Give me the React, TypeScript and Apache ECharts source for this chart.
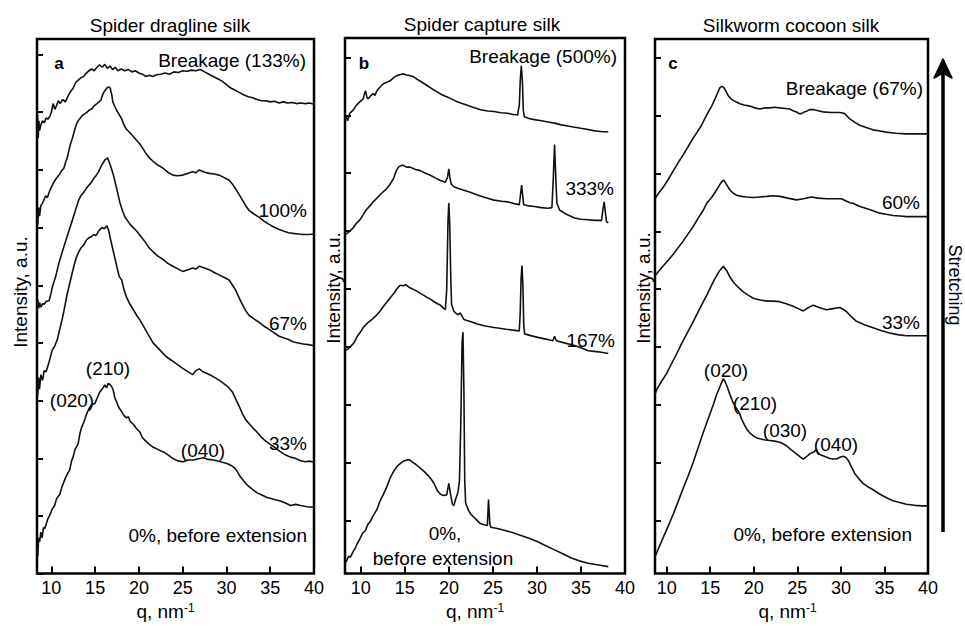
import React, { useEffect, useRef } from "react";
import * as echarts from "echarts";

const FONT = "'Liberation Sans', Arial, Helvetica, sans-serif";

// ---------- axis ticks ----------
const qTicks = [10, 15, 20, 25, 30, 35, 40];
const qMins = [8.36, 8.2, 8.66];
const qMax = 40;
const yMaxs = [9.27, 9.25, 9.24];
const yTicksA = [0, 1, 2, 3, 4, 5, 6, 7, 8, 9];
const yTicksBC = [0.915, 1.915, 2.915, 3.915, 4.915, 5.915, 6.915, 7.915, 8.915];

const panelTitles = ["Spider dragline silk", "Spider capture silk", "Silkworm cocoon silk"];

// ---------- a: spider dragline silk ----------
const dragline0 = [[8.36,0.45],[8.45,0.3],[8.55,0.62],[8.66,0.55],[8.8,0.72],[8.95,0.62],[9.1,0.8],[9.24,0.78],[9.4,0.85],[9.6,0.95],[9.81,1.01],[10.1,1.12],[10.38,1.18],[10.6,1.3],[10.96,1.37],[11.2,1.5],[11.53,1.63],[11.8,1.72],[12.1,1.8],[12.3,1.95],[12.48,2.02],[12.7,2.15],[13.06,2.25],[13.25,2.42],[13.44,2.53],[13.7,2.62],[14.01,2.76],[14.3,2.86],[14.59,2.93],[14.97,2.95],[15.25,3.05],[15.54,3.15],[15.8,3.2],[16.11,3.27],[16.3,3.22],[16.5,3.3],[16.69,3.28],[16.9,3.24],[17.07,3.18],[17.25,3.05],[17.45,2.98],[17.7,2.88],[18.02,2.81],[18.3,2.74],[18.6,2.7],[18.8,2.72],[19.0,2.64],[19.36,2.59],[19.7,2.52],[20.13,2.45],[20.4,2.36],[20.7,2.31],[21.2,2.24],[21.65,2.19],[22.2,2.15],[22.8,2.11],[23.4,2.05],[23.95,1.99],[24.5,1.95],[25.09,1.94],[25.6,1.97],[26.24,1.97],[26.8,1.99],[27.39,2.01],[27.9,1.98],[28.53,1.97],[29.3,1.94],[30.06,1.91],[30.6,1.87],[31.02,1.82],[31.3,1.75],[31.59,1.68],[32.0,1.6],[32.35,1.54],[32.9,1.47],[33.5,1.4],[34.1,1.36],[34.65,1.32],[35.4,1.29],[36.17,1.26],[36.8,1.22],[37.32,1.18],[37.9,1.2],[38.47,1.18],[39.2,1.16],[40,1.15]];
const dragline33 = [[8.36,3.3],[8.45,3.1],[8.55,3.4],[8.65,3.2],[8.8,3.45],[9.0,3.35],[9.17,3.52],[9.4,3.5],[9.74,3.67],[10.11,3.88],[10.4,3.95],[10.68,4.06],[11.06,4.3],[11.25,4.42],[11.43,4.55],[11.81,4.85],[12.19,5.09],[12.57,5.33],[12.85,5.48],[13.13,5.58],[13.4,5.65],[13.7,5.7],[14.0,5.78],[14.26,5.82],[14.55,5.84],[14.83,5.88],[15.1,5.86],[15.4,5.94],[15.77,6.0],[16.05,5.98],[16.34,6.03],[16.55,5.95],[16.72,5.82],[17.09,5.58],[17.47,5.33],[17.75,5.15],[18.04,5.09],[18.3,4.92],[18.6,4.79],[18.98,4.67],[19.35,4.58],[19.74,4.48],[20.1,4.4],[20.49,4.3],[21.0,4.16],[21.62,4.0],[22.0,3.94],[22.38,3.88],[23.13,3.76],[23.7,3.7],[24.26,3.64],[24.8,3.58],[25.4,3.52],[25.8,3.48],[26.15,3.45],[26.5,3.52],[26.9,3.55],[27.3,3.5],[27.66,3.48],[28.2,3.44],[28.79,3.39],[29.4,3.33],[29.92,3.27],[30.3,3.22],[30.68,3.15],[31.05,3.03],[31.43,2.91],[31.8,2.78],[32.19,2.67],[32.7,2.58],[33.32,2.48],[33.9,2.38],[34.45,2.3],[35.0,2.24],[35.58,2.18],[36.1,2.12],[36.72,2.06],[37.3,2.02],[37.85,2.0],[38.4,1.96],[38.98,1.94],[39.5,1.95],[40,1.93]];
const dragline67 = [[8.36,4.55],[8.45,4.75],[8.55,4.6],[8.65,4.7],[8.8,4.62],[9.0,4.68],[9.17,4.67],[9.4,4.72],[9.74,4.73],[9.95,4.85],[10.11,4.97],[10.49,5.15],[10.87,5.39],[11.25,5.58],[11.62,5.76],[12.0,5.94],[12.38,6.12],[12.75,6.3],[13.13,6.48],[13.4,6.56],[13.7,6.61],[14.0,6.68],[14.26,6.73],[14.55,6.78],[14.83,6.85],[15.1,6.9],[15.4,6.97],[15.77,7.09],[16.15,7.18],[16.42,7.21],[16.72,7.09],[17.09,6.91],[17.47,6.67],[17.85,6.42],[18.15,6.28],[18.42,6.18],[18.98,6.06],[19.35,6.0],[19.74,5.94],[20.2,5.85],[20.68,5.76],[21.1,5.66],[21.62,5.58],[22.2,5.5],[22.75,5.45],[23.3,5.38],[23.89,5.33],[24.5,5.28],[25.0,5.24],[25.6,5.27],[26.15,5.3],[26.5,5.28],[26.9,5.33],[27.5,5.3],[28.04,5.27],[28.6,5.22],[29.17,5.18],[29.7,5.14],[30.3,5.09],[30.7,5.0],[31.06,4.91],[31.45,4.78],[31.81,4.67],[32.2,4.56],[32.57,4.48],[33.1,4.42],[33.7,4.36],[34.3,4.29],[34.83,4.24],[35.4,4.18],[35.96,4.12],[36.5,4.09],[37.1,4.06],[37.6,4.02],[38.2,4.0],[38.8,3.98],[39.36,3.97],[40,3.95]];
const dragline100 = [[8.36,6.25],[8.45,6.05],[8.55,6.35],[8.65,6.2],[8.8,6.38],[8.98,6.42],[9.2,6.5],[9.36,6.55],[9.55,6.52],[9.74,6.61],[10.0,6.7],[10.3,6.79],[10.6,6.86],[10.87,6.91],[11.15,6.98],[11.43,7.03],[11.6,7.12],[11.81,7.21],[12.0,7.34],[12.19,7.45],[12.4,7.55],[12.57,7.64],[12.75,7.74],[12.94,7.82],[13.2,7.88],[13.51,7.94],[13.8,7.97],[14.08,8.0],[14.35,8.04],[14.64,8.06],[14.95,8.12],[15.21,8.15],[15.45,8.18],[15.66,8.21],[15.85,8.3],[16.04,8.36],[16.34,8.42],[16.55,8.44],[16.72,8.42],[16.9,8.3],[17.02,8.18],[17.25,8.1],[17.47,8.03],[17.75,7.96],[18.04,7.88],[18.3,7.78],[18.6,7.7],[19.0,7.64],[19.36,7.58],[19.7,7.52],[20.11,7.45],[20.5,7.36],[20.87,7.27],[21.25,7.2],[21.62,7.15],[22.2,7.08],[22.75,7.03],[23.3,6.96],[23.89,6.91],[24.4,6.9],[25.0,6.91],[25.6,6.94],[26.15,6.97],[26.5,6.95],[26.9,7.0],[27.5,6.96],[28.04,6.94],[28.6,6.93],[29.17,6.91],[29.7,6.87],[30.3,6.82],[30.7,6.75],[31.06,6.67],[31.45,6.57],[31.81,6.48],[32.2,6.38],[32.57,6.3],[33.1,6.24],[33.7,6.18],[34.3,6.11],[34.83,6.06],[35.4,6.01],[35.96,5.97],[36.5,5.94],[37.1,5.91],[37.6,5.9],[38.2,5.89],[38.8,5.88],[39.36,5.88],[40,5.89]];
const draglineBreak = [[8.36,7.6],[8.42,7.95],[8.5,7.55],[8.58,7.85],[8.66,7.68],[8.8,7.78],[9.0,7.85],[9.2,7.82],[9.4,7.9],[9.6,7.88],[9.8,7.92],[10.0,8.0],[10.2,8.15],[10.4,8.05],[10.6,8.12],[10.8,8.2],[11.0,8.15],[11.3,8.22],[11.6,8.18],[11.9,8.28],[12.2,8.36],[12.5,8.42],[12.8,8.52],[13.1,8.56],[13.4,8.6],[13.7,8.62],[14.0,8.68],[14.3,8.72],[14.6,8.75],[14.9,8.72],[15.2,8.78],[15.5,8.82],[15.8,8.78],[16.1,8.83],[16.4,8.76],[16.7,8.8],[17.0,8.74],[17.3,8.78],[17.6,8.72],[18.0,8.75],[18.4,8.72],[18.8,8.74],[19.2,8.7],[19.6,8.72],[20.0,8.68],[20.4,8.66],[20.8,8.62],[21.2,8.64],[21.6,8.62],[22.0,8.65],[22.5,8.66],[23.0,8.68],[23.5,8.66],[24.0,8.7],[24.5,8.69],[25.0,8.72],[25.5,8.71],[26.0,8.73],[26.5,8.72],[27.0,8.74],[27.5,8.7],[28.0,8.66],[28.5,8.62],[29.0,8.58],[29.5,8.54],[30.0,8.48],[30.5,8.42],[31.0,8.38],[31.5,8.34],[32.0,8.3],[32.5,8.27],[33.0,8.25],[33.5,8.22],[34.0,8.2],[34.5,8.2],[35.0,8.18],[35.5,8.19],[36.0,8.16],[36.5,8.18],[37.0,8.16],[37.5,8.17],[38.0,8.15],[38.5,8.16],[39.0,8.15],[39.5,8.16],[40,8.14]];

// ---------- b: spider capture silk ----------
const capture0 = [[8.2,0.2],[8.36,0.21],[8.6,0.3],[8.8,0.28],[9.12,0.38],[9.4,0.45],[9.6,0.52],[9.89,0.6],[10.2,0.7],[10.5,0.74],[10.8,0.85],[11.03,0.89],[11.4,1.0],[11.8,1.1],[12.17,1.25],[12.5,1.35],[12.9,1.48],[13.32,1.65],[13.7,1.76],[14.1,1.85],[14.46,1.9],[14.8,1.94],[15.22,1.96],[15.5,1.97],[15.9,1.92],[16.3,1.88],[16.75,1.82],[17.2,1.76],[17.6,1.7],[17.89,1.65],[18.3,1.56],[18.7,1.43],[19.04,1.37],[19.4,1.35],[19.75,1.36],[19.99,1.56],[20.2,1.36],[20.4,1.2],[20.56,1.17],[20.75,1.28],[21.02,1.4],[21.2,1.6],[21.35,2.6],[21.5,4.0],[21.6,4.17],[21.7,3.2],[21.8,1.6],[21.9,1.22],[22.2,1.1],[22.47,1.03],[23.0,0.95],[23.61,0.86],[24.1,0.84],[24.37,0.83],[24.5,1.28],[24.65,0.86],[24.75,0.8],[25.5,0.78],[26.28,0.75],[27.2,0.71],[28.19,0.66],[29.1,0.61],[30.09,0.55],[31.0,0.48],[32.0,0.41],[33.0,0.34],[33.9,0.27],[34.8,0.22],[35.81,0.18],[37.0,0.15],[38.1,0.12]];
const capture167 = [[8.2,3.85],[8.55,3.88],[8.8,3.92],[9.2,3.98],[9.6,4.1],[10.0,4.18],[10.27,4.25],[10.7,4.32],[11.2,4.38],[11.7,4.45],[12.17,4.53],[12.6,4.62],[13.0,4.7],[13.32,4.76],[13.8,4.85],[14.1,4.92],[14.46,4.98],[14.8,4.97],[15.1,4.99],[15.41,4.95],[15.8,4.92],[16.1,4.9],[16.75,4.84],[17.2,4.8],[17.5,4.77],[17.9,4.74],[18.27,4.7],[18.7,4.66],[19.0,4.64],[19.4,4.58],[19.6,4.56],[19.75,4.9],[19.9,6.1],[19.99,6.4],[20.1,6.0],[20.2,5.2],[20.3,4.65],[20.56,4.53],[21.0,4.47],[21.3,4.5],[21.7,4.39],[22.5,4.35],[23.23,4.31],[24.0,4.28],[25.13,4.25],[26.5,4.22],[27.5,4.2],[27.99,4.19],[28.1,4.5],[28.2,5.1],[28.3,5.32],[28.4,5.0],[28.5,4.3],[28.6,4.14],[29.3,4.11],[30.09,4.08],[31.0,4.05],[31.8,4.02],[32.0,4.1],[32.2,4.02],[33.2,3.98],[34.28,3.94],[35.0,3.9],[35.81,3.85],[37.0,3.83],[38.1,3.8]];
const capture333 = [[8.2,5.85],[8.55,5.89],[8.8,5.92],[9.12,5.97],[9.5,6.05],[9.89,6.11],[10.27,6.2],[10.6,6.28],[11.03,6.35],[11.4,6.42],[11.79,6.48],[12.3,6.56],[12.94,6.65],[13.3,6.72],[13.7,6.82],[14.0,6.95],[14.27,7.02],[14.6,7.05],[14.84,7.05],[15.2,7.02],[15.6,7.02],[16.2,6.98],[16.75,6.96],[17.3,6.92],[17.89,6.88],[18.5,6.83],[19.04,6.79],[19.6,6.76],[19.85,6.85],[19.99,6.99],[20.1,6.85],[20.26,6.73],[20.56,6.68],[21.1,6.65],[21.7,6.62],[22.5,6.58],[23.23,6.54],[24.2,6.49],[25.13,6.45],[26.0,6.43],[26.66,6.42],[27.4,6.39],[27.99,6.37],[28.1,6.5],[28.26,6.71],[28.4,6.5],[28.49,6.37],[29.1,6.35],[29.71,6.34],[30.5,6.32],[31.24,6.31],[31.7,6.32],[31.85,6.8],[32.0,7.41],[32.15,6.8],[32.26,6.4],[32.57,6.28],[33.4,6.2],[34.28,6.14],[35.0,6.12],[35.81,6.11],[36.6,6.1],[37.34,6.1],[37.5,6.3],[37.64,6.42],[37.8,6.2],[37.9,6.08],[38.1,6.06]];
const captureBreak = [[8.2,7.85],[8.36,7.89],[8.5,7.82],[8.74,7.95],[9.1,8.0],[9.5,8.09],[9.9,8.15],[10.27,8.2],[10.4,8.28],[10.53,8.34],[10.7,8.22],[10.84,8.2],[11.1,8.25],[11.41,8.29],[11.6,8.26],[11.8,8.33],[11.98,8.37],[12.3,8.42],[12.55,8.46],[12.9,8.48],[13.32,8.51],[13.7,8.56],[14.08,8.6],[14.5,8.62],[14.84,8.63],[15.2,8.61],[15.6,8.6],[16.0,8.58],[16.37,8.54],[16.9,8.49],[17.51,8.43],[18.1,8.37],[18.65,8.32],[19.2,8.27],[19.8,8.23],[20.4,8.19],[20.94,8.15],[21.5,8.12],[22.09,8.09],[22.8,8.05],[23.61,8.01],[24.4,7.99],[25.13,7.98],[25.9,7.96],[26.66,7.95],[27.3,7.93],[27.8,7.92],[28.0,8.1],[28.1,8.5],[28.22,8.77],[28.35,8.5],[28.45,8.0],[28.57,7.89],[29.1,7.86],[29.71,7.84],[30.5,7.82],[31.24,7.8],[32.0,7.78],[32.76,7.75],[33.5,7.73],[34.28,7.71],[35.0,7.69],[35.81,7.67],[36.4,7.65],[36.95,7.64],[37.5,7.63],[38.1,7.63]];

// ---------- c: silkworm cocoon silk ----------
const cocoon0 = [[8.66,0.29],[9.1,0.45],[9.62,0.63],[10.2,0.83],[10.76,1.03],[11.3,1.24],[11.91,1.48],[12.5,1.7],[13.06,1.93],[13.6,2.17],[14.2,2.44],[14.8,2.69],[15.35,2.92],[15.7,3.08],[16.11,3.23],[16.3,3.3],[16.5,3.37],[16.7,3.32],[16.95,3.23],[17.3,3.08],[17.64,2.95],[17.9,2.88],[18.22,2.81],[18.4,2.76],[18.6,2.67],[18.9,2.58],[19.17,2.5],[19.55,2.43],[19.94,2.38],[20.3,2.35],[20.7,2.33],[21.3,2.31],[21.85,2.3],[22.4,2.29],[22.99,2.27],[23.4,2.24],[23.76,2.21],[24.3,2.14],[24.9,2.07],[25.3,2.02],[25.67,1.98],[26.05,2.02],[26.43,2.07],[26.9,2.1],[27.2,2.15],[27.4,2.08],[27.58,2.06],[28.1,2.03],[28.72,1.99],[29.1,1.98],[29.49,1.98],[29.9,2.01],[30.25,2.03],[30.55,2.01],[30.83,1.96],[31.2,1.85],[31.59,1.73],[32.0,1.65],[32.55,1.56],[33.1,1.5],[33.69,1.45],[34.4,1.38],[35.22,1.31],[36.0,1.26],[36.75,1.23],[37.51,1.2],[38.5,1.18],[39.3,1.17],[40,1.17]];
const cocoon33 = [[8.66,3.1],[8.85,3.18],[9.4,3.32],[10.0,3.46],[10.6,3.64],[11.15,3.8],[11.7,3.97],[12.29,4.14],[12.9,4.31],[13.44,4.47],[14.0,4.64],[14.59,4.81],[15.1,4.97],[15.54,5.1],[15.85,5.18],[16.11,5.24],[16.5,5.31],[16.88,5.24],[17.25,5.13],[17.64,5.04],[18.2,4.95],[18.79,4.87],[19.4,4.81],[19.94,4.76],[20.7,4.73],[21.46,4.71],[22.2,4.71],[22.99,4.7],[23.8,4.66],[24.52,4.62],[25.1,4.58],[25.67,4.54],[26.2,4.59],[26.81,4.64],[27.5,4.6],[28.34,4.56],[29.1,4.58],[29.87,4.6],[30.25,4.57],[30.63,4.53],[31.2,4.44],[31.78,4.36],[32.7,4.3],[33.69,4.25],[34.6,4.2],[35.6,4.16],[36.5,4.13],[37.51,4.11],[38.7,4.11],[40,4.11]];
const cocoon60 = [[8.66,5.15],[9.1,5.23],[9.62,5.32],[10.2,5.42],[10.76,5.52],[11.3,5.63],[11.91,5.75],[12.5,5.88],[13.06,6.0],[13.6,6.14],[14.2,6.28],[14.59,6.4],[15.16,6.5],[15.6,6.6],[15.92,6.68],[16.3,6.77],[16.57,6.8],[16.9,6.72],[17.26,6.63],[17.6,6.58],[18.02,6.54],[18.6,6.52],[19.17,6.51],[19.9,6.5],[20.7,6.51],[21.5,6.52],[22.2,6.53],[22.99,6.52],[23.9,6.49],[24.9,6.46],[25.7,6.48],[26.62,6.51],[27.4,6.49],[28.34,6.48],[29.2,6.48],[30.06,6.48],[30.6,6.44],[31.02,6.41],[31.4,6.4],[32.1,6.35],[32.93,6.31],[33.7,6.27],[34.46,6.23],[35.2,6.21],[35.98,6.19],[36.8,6.18],[37.51,6.17],[38.7,6.17],[40,6.17]];
const cocoonBreak = [[8.66,6.48],[9.1,6.58],[9.62,6.68],[10.2,6.82],[10.76,6.96],[11.3,7.1],[11.91,7.24],[12.5,7.39],[13.06,7.53],[13.5,7.63],[14.01,7.75],[14.4,7.87],[14.78,7.98],[15.2,8.09],[15.54,8.2],[15.85,8.31],[16.11,8.4],[16.3,8.42],[16.5,8.41],[16.69,8.37],[16.9,8.31],[17.07,8.26],[17.35,8.21],[17.64,8.18],[18.0,8.15],[18.41,8.12],[18.9,8.1],[19.55,8.08],[20.1,8.05],[20.7,8.03],[21.3,8.05],[21.85,8.05],[22.4,8.06],[22.99,8.05],[23.6,8.04],[24.14,8.03],[24.5,8.0],[24.9,7.98],[25.2,7.95],[25.48,7.95],[25.8,7.98],[26.05,7.99],[26.4,8.02],[26.81,8.02],[27.4,8.0],[27.96,7.98],[28.9,7.97],[29.87,7.97],[30.2,7.96],[30.44,7.95],[30.75,7.9],[31.02,7.86],[31.6,7.8],[32.16,7.75],[32.9,7.71],[33.69,7.67],[34.5,7.65],[35.22,7.63],[35.8,7.62],[36.37,7.61],[37.51,7.6],[38.7,7.6],[40,7.6]];

const panelCurves = [
  [dragline0, dragline33, dragline67, dragline100, draglineBreak],
  [capture0, capture167, capture333, captureBreak],
  [cocoon0, cocoon33, cocoon60, cocoonBreak],
];

// ---------- annotations ----------
const panelLetters = ["a", "b", "c"];
const curveLabels = [
  ["Breakage (133%)", "100%", "67%", "33%", "0%, before extension", "(020)", "(210)", "(040)"],
  ["Breakage (500%)", "333%", "167%", "0%,", "before extension"],
  ["Breakage (67%)", "60%", "33%", "(020)", "(210)", "(030)", "(040)", "0%, before extension"],
];
const yName = "Intensity, a.u.";
const arrowLabel = "Stretching";

// layout (pixels)
const grids = [
  { left: 37, top: 39, width: 277, height: 547 },
  { left: 345, top: 38, width: 280, height: 546 },
  { left: 655, top: 39, width: 273, height: 545 },
];
const titlePos = [[170, 25], [482, 24], [791, 25]];
const letterPos = [[59, 63], [364, 63], [673, 63]];
const labelPos = [
  [[306, 60, "right"], [307, 210, "right"], [307, 323, "right"], [307, 443, "right"], [307, 535, "right"], [72, 400, "center"], [108, 368, "center"], [203, 450, "center"]],
  [[617, 56, "right"], [614, 188, "right"], [615, 340, "right"], [445, 533, "center"], [443, 558, "center"]],
  [[923, 88, "right"], [920, 202, "right"], [920, 322, "right"], [726, 370, "center"], [755, 403, "center"], [785, 430, "center"], [836, 444, "center"], [912, 534, "right"]],
];
const yNamePos = [[20, 292], [333, 288], [643, 288]];
const xNameShift = [20, 20, 8];
const xNameGap = [21, 23, 23];

export default function App() {
  const ref = useRef<HTMLDivElement>(null);
  useEffect(() => {
    if (!ref.current) return;
    const chart = echarts.init(ref.current, undefined, { renderer: "svg" });
    const textStyleBase = { fill: "#000", fontFamily: FONT };

    const graphic: any[] = [];
    panelTitles.forEach((t, i) => {
      graphic.push({ type: "text", x: titlePos[i][0], y: titlePos[i][1], style: { ...textStyleBase, text: t, fontSize: 19, align: "center", verticalAlign: "middle" } });
      graphic.push({ type: "text", x: letterPos[i][0], y: letterPos[i][1], style: { ...textStyleBase, text: panelLetters[i], fontSize: 17, fontWeight: "bold", align: "center", verticalAlign: "middle" } });
      graphic.push({ type: "text", x: yNamePos[i][0], y: yNamePos[i][1], rotation: Math.PI / 2, style: { ...textStyleBase, text: yName, fontSize: 19, align: "center", verticalAlign: "middle" } });
      curveLabels[i].forEach((lab, j) => {
        const p = labelPos[i][j];
        graphic.push({ type: "text", x: p[0], y: p[1], style: { ...textStyleBase, text: lab, fontSize: 19, align: p[2], verticalAlign: "middle" } });
      });
    });
    // stretching arrow
    graphic.push({ type: "line", shape: { x1: 943, y1: 532, x2: 943, y2: 66 }, style: { stroke: "#000", lineWidth: 3.5 } });
    graphic.push({ type: "polygon", shape: { points: [[943, 59], [934, 78], [943, 73], [952, 78]] }, style: { fill: "#000", stroke: "#000", lineWidth: 1.5, lineJoin: "round" } });
    graphic.push({ type: "text", x: 955, y: 285, rotation: -Math.PI / 2, style: { ...textStyleBase, text: arrowLabel, fontSize: 18, align: "center", verticalAlign: "middle" } });

    const xAxis = grids.map((_, i) => ({
      gridIndex: i,
      type: "value",
      min: qMins[i],
      max: qMax,
      axisLine: { show: false },
      splitLine: { show: false },
      axisTick: { inside: true, length: 7, customValues: qTicks, lineStyle: { color: "#000", width: 2 } },
      axisLabel: { customValues: qTicks, fontSize: 18, color: "#000", fontFamily: FONT, margin: 5 },
      name: "{n|q, nm}{s|-1}",
      nameLocation: "middle",
      nameGap: xNameGap[i],
      nameTextStyle: {
        padding: [0, xNameShift[i], 0, 0],
        rich: {
          n: { fontSize: 19, color: "#000", fontFamily: FONT, lineHeight: 20 },
          s: { fontSize: 12, color: "#000", fontFamily: FONT, lineHeight: 12, verticalAlign: "top" },
        },
      },
    }));
    const yAxis = grids.map((_, i) => ({
      gridIndex: i,
      type: "value",
      min: 0,
      max: yMaxs[i],
      axisLine: { show: false },
      splitLine: { show: false },
      axisLabel: { show: false },
      axisTick: { inside: true, length: 6, customValues: i === 0 ? yTicksA : yTicksBC, lineStyle: { color: "#000", width: 2 } },
    }));
    const series: any[] = [];
    panelCurves.forEach((curves, i) => {
      curves.forEach((d) => {
        series.push({
          type: "line",
          xAxisIndex: i,
          yAxisIndex: i,
          data: d,
          showSymbol: false,
          silent: true,
          lineStyle: { color: "#111", width: 1.6 },
        });
      });
    });

    chart.setOption({
      animation: false,
      backgroundColor: "#fff",
      grid: grids.map((g) => ({ ...g, show: true, borderColor: "#000", borderWidth: 2.5, backgroundColor: "transparent" })),
      xAxis,
      yAxis,
      series,
      graphic,
    });
    return () => chart.dispose();
  }, []);
  return <div ref={ref} style={{ position: "absolute", left: 0, top: 0, width: 965, height: 626 }} />;
}
